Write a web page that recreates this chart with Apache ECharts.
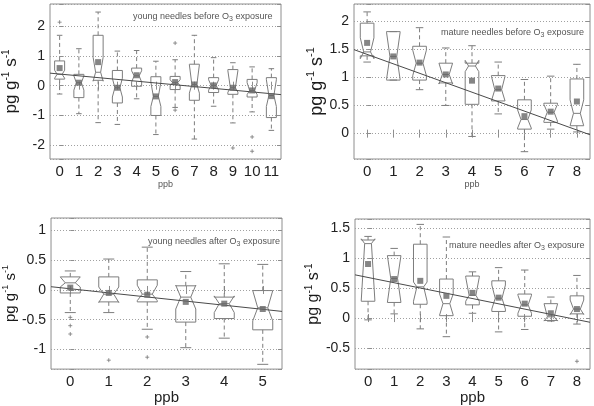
<!DOCTYPE html>
<html>
<head>
<meta charset="utf-8">
<script src="https://cdn.jsdelivr.net/npm/echarts@6/dist/echarts.min.js"></script>
<style>
html, body { margin: 0; padding: 0; background: #fff; }
#chart { width: 594px; height: 406px; }
</style>
</head>
<body>
<div id="chart"></div>
<script>
// one row per box: [lower whisker, q1, notch low, median, notch high, q3, upper whisker]
const youngBefore = [
  [-0.28, 0.22, 0.25, 0.38, 0.52, 0.83, 1.69],
  [-0.94, -0.40, -0.15, 0.10, 0.33, 0.38, 1.24],
  [-1.24, 0.18, 0.15, 0.45, 0.95, 1.69, 2.47],
  [-1.30, -0.58, -0.38, -0.07, 0.25, 0.51, 1.16],
  [-0.44, -0.02, 0.12, 0.33, 0.50, 0.59, 1.18],
  [-1.64, -1.00, -0.70, -0.36, 0.12, 0.30, 0.82],
  [-0.73, -0.13, 0.00, 0.10, 0.20, 0.31, 0.87],
  [-1.79, -0.49, -0.25, 0.04, 0.70, 0.72, 1.69],
  [-0.69, -0.23, -0.15, 0.01, 0.20, 0.27, 0.94],
  [-1.25, -0.29, -0.22, -0.07, 0.50, 0.54, 0.77],
  [-0.88, -0.38, -0.30, -0.16, 0.10, 0.21, 0.63],
  [-1.50, -1.07, -0.70, -0.33, 0.20, 0.27, 0.57]
];
const youngBeforeMean = [0.59, 0.10, 0.79, -0.07, 0.35, -0.36, 0.12, 0.04, 0.01, -0.07, -0.16, -0.35];
const youngBeforeOut = [[0, 2.13], [6, 1.43], [6, -0.82], [9, -2.09], [10, -1.72], [10, -2.20]];
const youngBeforeFit = [[-0.5, 0.42], [11.5, -0.30]];

const matureBefore = [
  [1.27, 1.38, 1.33, 1.45, 1.70, 1.96, 2.16],
  [0.95, 0.95, 0.96, 1.37, 1.80, 1.81, 1.81],
  [0.78, 0.95, 1.03, 1.25, 1.48, 1.55, 1.88],
  [0.50, 0.90, 0.88, 1.05, 1.25, 1.25, 1.52],
  [-0.05, 0.52, 1.10, 1.20, 1.30, 1.25, 1.56],
  [0.35, 0.58, 0.58, 0.78, 1.02, 1.03, 1.27],
  [-0.32, 0.08, 0.10, 0.25, 0.42, 0.60, 0.96],
  [0.08, 0.20, 0.22, 0.38, 0.52, 0.54, 1.02],
  [0.03, 0.14, 0.14, 0.36, 0.60, 0.97, 1.23]
];
const matureBeforeMean = [1.61, 1.37, 1.26, 1.05, 0.94, 0.80, 0.31, 0.39, 0.57];
const matureBeforeOut = [];
const matureBeforeFit = [[-0.5, 1.49], [8.5, -0.02]];

const youngAfter = [
  [-0.38, -0.05, 0.05, 0.12, 0.22, 0.22, 0.32],
  [-0.38, -0.20, -0.21, -0.07, 0.05, 0.22, 0.52],
  [-0.66, -0.20, -0.18, -0.07, 0.08, 0.17, 0.72],
  [-0.97, -0.54, -0.32, -0.12, 0.08, 0.07, 0.31],
  [-0.81, -0.48, -0.38, -0.23, -0.10, -0.12, 0.44],
  [-1.25, -0.67, -0.52, -0.30, -0.01, -0.01, 0.43]
];
const youngAfterMean = [0.04, -0.05, -0.08, -0.20, -0.23, -0.32];
const youngAfterOut = [[0, -0.46], [0, -0.60], [0, -0.74], [1, -1.18], [2, -0.79], [2, -1.13]];
const youngAfterFit = [[-0.5, 0.055], [5.5, -0.36]];

const matureAfter = [
  [-0.03, 0.28, 0.30, 1.24, 1.32, 1.30, 1.36],
  [0.07, 0.26, 0.26, 0.66, 1.04, 1.04, 1.16],
  [-0.18, 0.23, 0.28, 0.52, 0.60, 1.23, 1.56],
  [-0.31, 0.04, 0.05, 0.24, 0.40, 0.65, 1.35],
  [0.08, 0.22, 0.28, 0.38, 0.68, 0.70, 0.77],
  [-0.23, 0.11, 0.15, 0.33, 0.55, 0.62, 0.84],
  [-0.19, 0.03, 0.08, 0.22, 0.38, 0.40, 0.80],
  [-0.05, -0.04, -0.05, 0.02, 0.24, 0.24, 0.35],
  [-0.10, 0.07, 0.06, 0.15, 0.30, 0.37, 0.71]
];
const matureAfterMean = [0.90, 0.65, 0.62, 0.37, 0.42, 0.34, 0.24, 0.08, 0.15];
const matureAfterOut = [[8, -0.72]];
const matureAfterFit = [[-0.5, 0.72], [8.5, -0.07]];

const ppb12 = ['0', '1', '2', '3', '4', '5', '6', '7', '8', '9', '10', '11'];
const ppb9 = ['0', '1', '2', '3', '4', '5', '6', '7', '8'];
const ppb6 = ['0', '1', '2', '3', '4', '5'];

const FONT = 'Liberation Sans, Arial, Helvetica, sans-serif';
const BOX = '#7d7d7d';
const FRAME = '#8e8e8e';

const panels = [
  { boxes: youngBefore, means: youngBeforeMean, out: youngBeforeOut, fit: youngBeforeFit, cats: ppb12,
    yMin: -2.46, yMax: 2.74, step: 1, grid: { left: 47, top: 4, width: 234, height: 155 },
    nameSize: 17, nameGap: 28, ppbSize: 9, ppbGap: 19, ppbColor: '#555',
    note: ['young needles before O', ' exposure'], noteAt: [133, 17] },
  { boxes: matureBefore, means: matureBeforeMean, out: matureBeforeOut, fit: matureBeforeFit, cats: ppb9,
    yMin: -0.45, yMax: 2.3, step: 0.5, grid: { left: 354, top: 4, width: 236, height: 155 },
    nameSize: 18, nameGap: 22, ppbSize: 9, ppbGap: 19, ppbColor: '#555',
    note: ['mature needles before O', ' exposure'], noteAt: [441, 33] },
  { boxes: youngAfter, means: youngAfterMean, out: youngAfterOut, fit: youngAfterFit, cats: ppb6,
    yMin: -1.33, yMax: 1.21, step: 0.5, grid: { left: 46, top: 218, width: 236, height: 155 },
    nameSize: 15, nameGap: 31, ppbSize: 15, ppbGap: 18, ppbColor: '#222',
    note: ['young needles after O', ' exposure'], noteAt: [148, 242] },
  { boxes: matureAfter, means: matureAfterMean, out: matureAfterOut, fit: matureAfterFit, cats: ppb9,
    yMin: -0.85, yMax: 1.65, step: 0.5, grid: { left: 355, top: 219, width: 235, height: 154 },
    nameSize: 16, nameGap: 26, ppbSize: 15, ppbGap: 18, ppbColor: '#222',
    note: ['mature needles after O', ' exposure'], noteAt: [449, 246] }
];

// notched box, whiskers and caps
function renderBox(params, api) {
  const x = api.value(0);
  const [wlo, q1, nlo, med, nhi, q3, whi] = [1, 2, 3, 4, 5, 6, 7].map(i => api.value(i));
  const w = api.size([0.26, 0])[0];
  const n = w / 2;
  const c = w * 0.55;
  const p = (dx, y) => { const pt = api.coord([x, y]); return [pt[0] + dx, pt[1]]; };
  const seg = (a, b, dashed) => ({
    type: 'line',
    shape: { x1: a[0], y1: a[1], x2: b[0], y2: b[1] },
    style: { stroke: BOX, lineWidth: 1, lineDash: dashed ? [4, 3] : null }
  });
  return {
    type: 'group',
    children: [
      seg(p(0, q3), p(0, whi), true),
      seg(p(0, q1), p(0, wlo), true),
      seg(p(-c, whi), p(c, whi)),
      seg(p(-c, wlo), p(c, wlo)),
      {
        type: 'polygon',
        shape: { points: [p(-w, q1), p(w, q1), p(w, nlo), p(n, med), p(w, nhi), p(w, q3),
                          p(-w, q3), p(-w, nhi), p(-n, med), p(-w, nlo)] },
        style: { fill: 'none', stroke: BOX, lineWidth: 1 }
      },
      seg(p(-n, med), p(n, med))
    ]
  };
}

const grid = [], xAxis = [], yAxis = [], series = [], graphic = [];
const tick = { show: true, inside: true, length: 4, lineStyle: { color: FRAME } };

panels.forEach((pn, g) => {
  grid.push(Object.assign({ show: true, borderColor: FRAME, borderWidth: 1, backgroundColor: '#fff' }, pn.grid));
  const last = pn.cats.length - 0.5;
  xAxis.push({
    gridIndex: g, type: 'category', data: pn.cats, boundaryGap: true, position: 'bottom',
    axisLine: { show: false }, axisTick: Object.assign({ alignWithLabel: true }, tick),
    axisLabel: { fontSize: 15, color: '#222', fontFamily: FONT, margin: 5, interval: 0 },
    name: 'ppb', nameLocation: 'middle', nameGap: pn.ppbGap,
    nameTextStyle: { fontSize: pn.ppbSize, color: pn.ppbColor, fontFamily: FONT }
  });
  xAxis.push({
    gridIndex: g, type: 'category', data: pn.cats, boundaryGap: true, position: 'top',
    axisLine: { show: false }, axisTick: Object.assign({ alignWithLabel: true }, tick),
    axisLabel: { show: false }
  });
  xAxis.push({ gridIndex: g, type: 'value', min: -0.5, max: last, show: false });

  const step = pn.step;
  yAxis.push({
    gridIndex: g, type: 'value', min: pn.yMin, max: pn.yMax, splitNumber: 5, position: 'left',
    axisLine: { show: false }, axisTick: tick,
    axisLabel: {
      fontSize: 14, color: '#222', fontFamily: FONT, margin: 5,
      formatter: v => Math.abs(v / step - Math.round(v / step)) < 1e-6 ? String(+v.toFixed(2)) : ''
    },
    splitLine: { show: true, lineStyle: { color: '#a0a0a0', width: 1, type: [1, 2] } },
    name: '{a|pg g}{s|-1}{a| s}{s|-1}', nameLocation: 'middle', nameRotate: 90, nameGap: pn.nameGap,
    nameTextStyle: {
      fontFamily: FONT, color: '#1a1a1a',
      rich: {
        a: { fontSize: pn.nameSize, lineHeight: pn.nameSize + 4, fontFamily: FONT, color: '#1a1a1a' },
        s: { fontSize: Math.round(pn.nameSize * 0.6), lineHeight: Math.round(pn.nameSize * 0.6),
             verticalAlign: 'top', fontFamily: FONT, color: '#1a1a1a' }
      }
    }
  });
  yAxis.push({
    gridIndex: g, type: 'value', min: pn.yMin, max: pn.yMax, splitNumber: 5, position: 'right',
    axisLine: { show: false }, axisTick: tick, axisLabel: { show: false }, splitLine: { show: false }
  });

  const xi = g * 3 + 2, yi = g * 2;
  series.push({
    type: 'custom', xAxisIndex: xi, yAxisIndex: yi, z: 2,
    renderItem: renderBox,
    encode: { x: 0, y: [1, 2, 3, 4, 5, 6, 7] },
    data: pn.boxes.map((r, i) => [i].concat(r))
  });
  series.push({
    type: 'line', xAxisIndex: xi, yAxisIndex: yi, z: 3, showSymbol: false, silent: true,
    lineStyle: { color: '#4a4a4a', width: 1 }, data: pn.fit
  });
  series.push({
    type: 'scatter', xAxisIndex: xi, yAxisIndex: yi, z: 4, symbol: 'rect', symbolSize: 6,
    itemStyle: { color: '#666' }, data: pn.means.map((m, i) => [i, m])
  });
  series.push({
    type: 'scatter', xAxisIndex: xi, yAxisIndex: yi, z: 4, symbol: 'path://M5,0V10M0,5H10', symbolSize: 4,
    itemStyle: { color: 'none', borderColor: '#777', borderWidth: 1 }, data: pn.out
  });

  graphic.push({
    type: 'text', x: pn.noteAt[0], y: pn.noteAt[1], z: 10,
    style: {
      text: '{t|' + pn.note[0] + '}{b|3}{t|' + pn.note[1] + '}',
      align: 'left', verticalAlign: 'middle',
      rich: {
        t: { fontSize: 9, lineHeight: 12, fontFamily: FONT, fill: '#555', color: '#555' },
        b: { fontSize: 7, lineHeight: 7, verticalAlign: 'bottom', fontFamily: FONT, fill: '#555', color: '#555' }
      }
    }
  });
});

const chart = echarts.init(document.getElementById('chart'), null, { renderer: 'canvas' });
chart.setOption({
  animation: false,
  backgroundColor: '#fff',
  grid, xAxis, yAxis, series, graphic
});
</script>
</body>
</html>
